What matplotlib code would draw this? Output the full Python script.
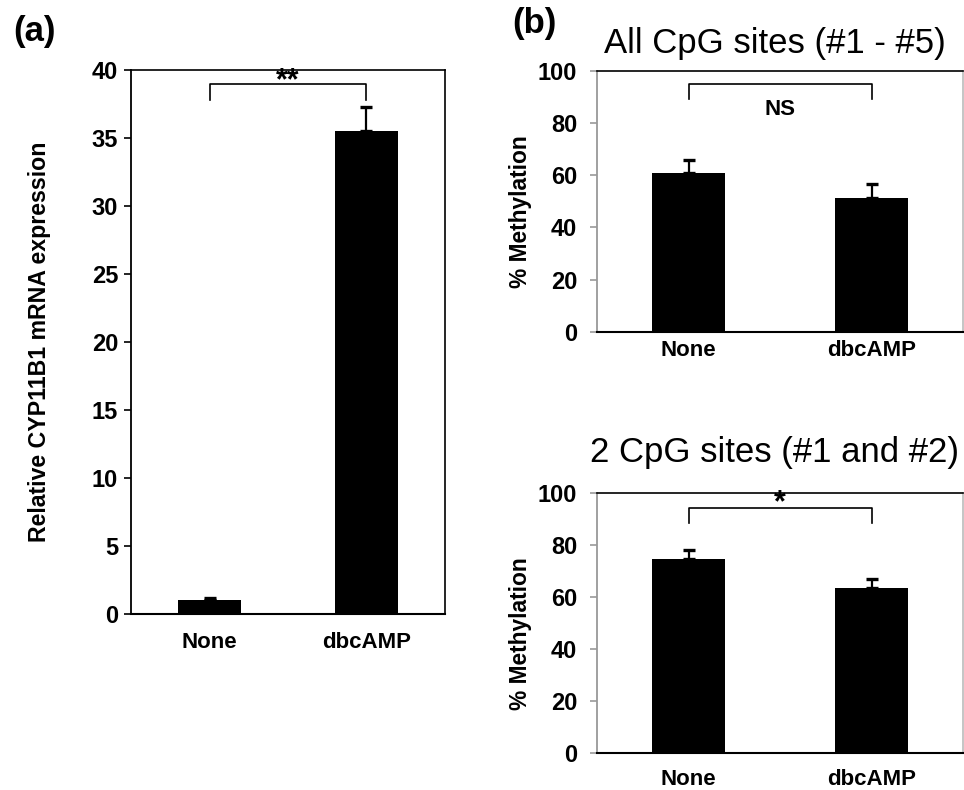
import matplotlib
matplotlib.use('Agg')
import matplotlib.pyplot as plt

plt.rcParams['font.family'] = ['Liberation Sans', 'DejaVu Sans']

groups = ['None', 'dbcAMP']

# (a) relative mRNA expression
expr_mean = [1.0, 35.5]
expr_err = [0.15, 1.8]

# (b) methylation
all_cpg_mean = [60.7, 51.1]
all_cpg_err = [5.0, 5.5]
two_cpg_mean = [74.8, 63.7]
two_cpg_err = [3.3, 3.2]

# significance brackets: (bar top, leg bottom, label)
sig_a = (39.0, 37.8, '**')
sig_b1 = (94.9, 89.0, 'NS')
sig_b2 = (94.4, 88.4, '*')


def draw_bars(ax, means, errs, ymax, step, spine_col, xpad, ypad):
    x = range(len(groups))
    ax.bar(x, means, width=0.4, color='black', zorder=2)
    ax.errorbar(x, means, yerr=[[0] * len(errs), errs], fmt='none', ecolor='black',
                elinewidth=1.6, capsize=4, capthick=2.4, zorder=3)
    ax.set_xlim(-0.5, 1.5)
    ax.set_ylim(0, ymax)
    ax.set_yticks(range(0, ymax + 1, step))
    ax.set_xticks(list(x))
    ax.set_xticklabels(groups, fontsize=16, fontweight='bold')
    ax.tick_params(axis='x', length=0, pad=xpad)
    ax.tick_params(axis='y', direction='out', length=5, width=1.2, color=spine_col,
                   labelsize=17, pad=ypad)
    for lab in ax.get_yticklabels():
        lab.set_fontweight('bold')
    ax.spines['left'].set_color(spine_col)
    ax.spines['left'].set_linewidth(1.3)
    ax.spines['bottom'].set_linewidth(1.5)
    ax.spines['top'].set_linewidth(1.2)
    ax.spines['right'].set_linewidth(1.2)


def draw_sig(ax, sig, fs, dy):
    top, leg, txt = sig
    ax.plot([0, 0, 1, 1], [leg, top, top, leg], color='black', lw=1.2, zorder=3)
    ax.text(0.5, top + dy, txt, ha='center', va='center', fontsize=fs, fontweight='bold')


fig = plt.figure(figsize=(9.64, 7.9), dpi=100)

ax_a = fig.add_axes([0.1359, 0.2228, 0.3257, 0.6886])
draw_bars(ax_a, expr_mean, expr_err, 40, 5, 'black', 13, 4.3)
draw_sig(ax_a, sig_a, 22, 0.2)
ax_a.set_ylabel('Relative CYP11B1 mRNA expression', fontsize=16.7, fontweight='bold')
ax_a.yaxis.set_label_coords(-0.254, 0.5)

ax_b1 = fig.add_axes([0.6193, 0.5801, 0.3797, 0.3304])
draw_bars(ax_b1, all_cpg_mean, all_cpg_err, 100, 20, '#999999', 6, 9.4)
draw_sig(ax_b1, sig_b1, 16, -9.6)
ax_b1.spines['right'].set_color('#bbbbbb')
ax_b1.set_ylabel('% Methylation', fontsize=16.4, fontweight='bold')
ax_b1.yaxis.set_label_coords(-0.178, 0.46)

ax_b2 = fig.add_axes([0.6193, 0.0465, 0.3797, 0.3291])
draw_bars(ax_b2, two_cpg_mean, two_cpg_err, 100, 20, '#999999', 11, 9.4)
draw_sig(ax_b2, sig_b2, 22, 1.8)
ax_b2.spines['right'].set_color('#bbbbbb')
ax_b2.set_ylabel('% Methylation', fontsize=16.4, fontweight='bold')
ax_b2.yaxis.set_label_coords(-0.178, 0.46)

fig.text(775 / 964, 1 - 43 / 790, 'All CpG sites (#1 - #5)', ha='center', va='center', fontsize=25)
fig.text(775 / 964, 1 - 453 / 790, '2 CpG sites (#1 and #2)', ha='center', va='center', fontsize=25)
fig.text(13 / 964, 1 - 31 / 790, '(a)', ha='left', va='center', fontsize=25, fontweight='bold')
fig.text(512 / 964, 1 - 24 / 790, '(b)', ha='left', va='center', fontsize=25, fontweight='bold')

fig.savefig('out.png', dpi=100)
